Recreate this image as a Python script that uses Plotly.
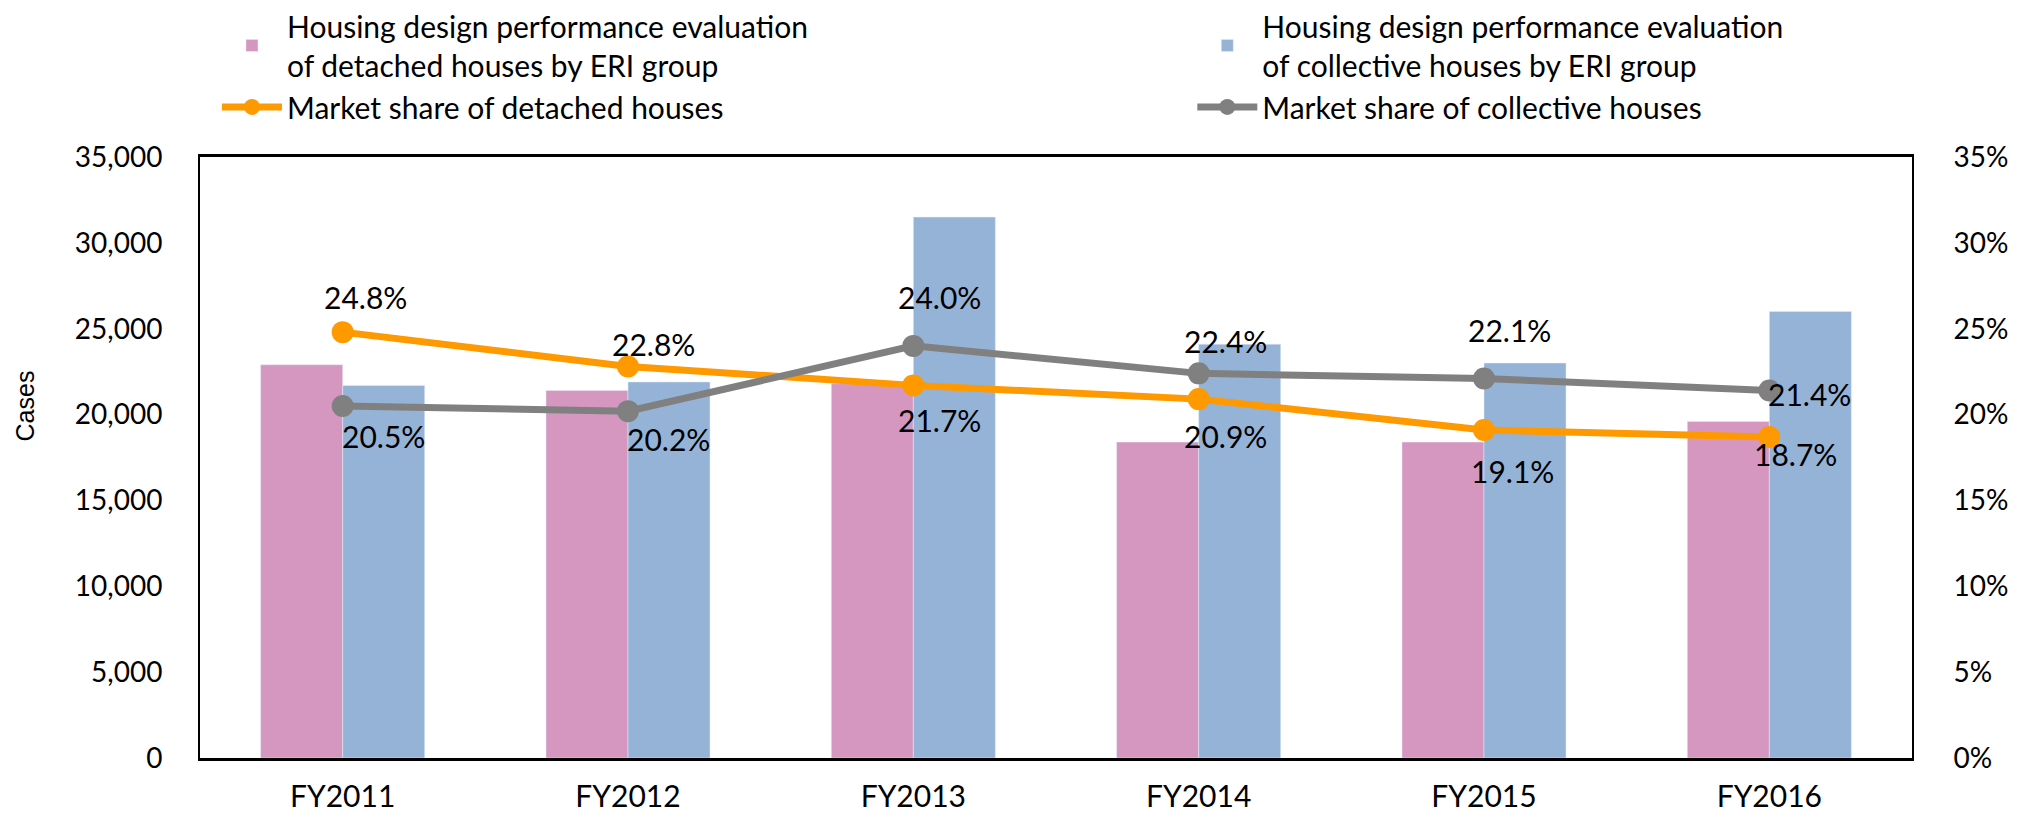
import plotly.graph_objects as go

categories = ["FY2011", "FY2012", "FY2013", "FY2014", "FY2015", "FY2016"]
detached_cases = [22900, 21400, 21800, 18400, 18400, 19600]
collective_cases = [21700, 21900, 31500, 24100, 23000, 26000]
detached_share = [24.8, 22.8, 21.7, 20.9, 19.1, 18.7]
collective_share = [20.5, 20.2, 24.0, 22.4, 22.1, 21.4]

left_ticks = [0, 5000, 10000, 15000, 20000, 25000, 30000, 35000]
right_ticks = [0, 5, 10, 15, 20, 25, 30, 35]
right_labels = ["0%", "5%", "10%", "15%", "20%", "25%", "30%", "35%"]

names = [
    "Housing design performance evaluation<br>of detached houses by ERI group",
    "Housing design performance evaluation<br>of collective houses by ERI group",
    "Market share of detached houses",
    "Market share of collective houses",
]

# label offsets (px) relative to each point
det_off = [(23, 35), (25, 22), (26, -35), (27, -37), (28, -41), (26, -17)]
col_off = [(41, -30), (40, -28), (26, 49), (27, 32), (25, 49), (40, -3)]

FONT = "Lato, Carlito, Calibri, sans-serif"
PINK = "#D597C0"
BLUE = "#95B3D7"
ORANGE = "#FF9900"
GRAY = "#808080"

fig = go.Figure()
fig.add_trace(go.Bar(x=categories, y=detached_cases, name=names[0], marker_color=PINK,
                     legend="legend", legendrank=1))
fig.add_trace(go.Bar(x=categories, y=collective_cases, name=names[1], marker_color=BLUE,
                     legend="legend2", legendrank=1))
fig.add_trace(go.Scatter(x=categories, y=detached_share, name=names[2], yaxis="y2",
                         mode="lines+markers", line=dict(color=ORANGE, width=7),
                         marker=dict(size=22, color=ORANGE), legend="legend", legendrank=2))
fig.add_trace(go.Scatter(x=categories, y=collective_share, name=names[3], yaxis="y2",
                         mode="lines+markers", line=dict(color=GRAY, width=7),
                         marker=dict(size=22, color=GRAY), legend="legend2", legendrank=2))

annots = []
for c, v, (dx, dy) in zip(categories, detached_share, det_off):
    annots.append(dict(x=c, y=v, xref="x", yref="y2", text=f"{v:.1f}%", showarrow=False,
                       xshift=dx, yshift=dy, font=dict(size=30, color="black", family=FONT)))
for c, v, (dx, dy) in zip(categories, collective_share, col_off):
    annots.append(dict(x=c, y=v, xref="x", yref="y2", text=f"{v:.1f}%", showarrow=False,
                       xshift=dx, yshift=dy, font=dict(size=30, color="black", family=FONT)))
annots.append(dict(x=-0.1022, y=0.585, xref="paper", yref="paper", text="Cases", textangle=-90,
                   xanchor="center", yanchor="middle",
                   showarrow=False, font=dict(size=25, color="black",
                                              family="Liberation Sans, Arial, sans-serif")))

legend_common = dict(orientation="v", yref="paper", xref="container", y=1.2613,
                     yanchor="top", xanchor="left", bgcolor="rgba(0,0,0,0)",
                     font=dict(size=30, family=FONT, color="black"), itemwidth=60,
                     traceorder="normal", tracegroupgap=0)

fig.update_layout(
    width=2021, height=810,
    margin=dict(l=192, r=117, t=149, b=60, autoexpand=False),
    plot_bgcolor="white", paper_bgcolor="white",
    font=dict(family=FONT, size=28, color="black"),
    barmode="group", bargap=0.425, bargroupgap=0,
    showlegend=True,
    legend=dict(x=0.1034, **legend_common),
    legend2=dict(x=0.586, **legend_common),
    xaxis=dict(showline=True, linecolor="black", linewidth=3, mirror=True,
               ticks="", tickfont=dict(size=30), ticklabelstandoff=10),
    yaxis=dict(range=[0, 35000], tickvals=left_ticks, tickformat=",d", showgrid=False,
               showline=True, linecolor="black", linewidth=2, mirror=True, ticks="",
               zeroline=False, tickfont=dict(size=28), ticklabelstandoff=30),
    yaxis2=dict(range=[0, 35], tickmode="array", tickvals=right_ticks, ticktext=right_labels,
                overlaying="y", side="right",
                showgrid=False, showline=True, linecolor="black", linewidth=2, ticks="",
                zeroline=False, tickfont=dict(size=28), ticklabelstandoff=34),
    annotations=annots,
)
fig.write_html("out.html")
